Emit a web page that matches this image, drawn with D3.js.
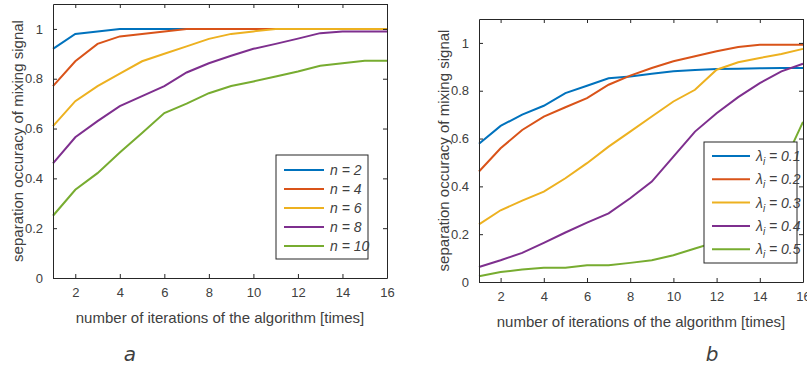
<!DOCTYPE html>
<html>
<head>
<meta charset="utf-8">
<script src="https://cdn.jsdelivr.net/npm/d3@7"></script>
<style>
  body { margin: 0; background: #fff; }
  svg { display: block; }
  text { font-family: "Liberation Sans Narrow", "Liberation Sans", Arial, sans-serif; fill: #404040; }
</style>
</head>
<body>
<svg id="chart" width="807" height="368"></svg>
<script>
const iterations = d3.range(1, 17);
const yTicks = [0, 0.2, 0.4, 0.6, 0.8, 1];
const xTicks = [2, 4, 6, 8, 10, 12, 14, 16];
const colors = ['#0072BD', '#D95319', '#EDB120', '#7E2F8E', '#77AC30'];

// panel a: different n
const nLabels = ['2', '4', '6', '8', '10'];
const n2 = [0.92, 0.98, 0.99, 1.0, 1.0, 1.0, 1.0, 1.0, 1.0, 1.0, 1.0, 1.0, 1.0, 1.0, 1.0, 1.0];
const n4 = [0.77, 0.87, 0.94, 0.97, 0.98, 0.99, 1.0, 1.0, 1.0, 1.0, 1.0, 1.0, 1.0, 1.0, 1.0, 1.0];
const n6 = [0.61, 0.71, 0.77, 0.82, 0.87, 0.90, 0.93, 0.96, 0.98, 0.99, 1.0, 1.0, 1.0, 1.0, 1.0, 1.0];
const n8 = [0.46, 0.565, 0.63, 0.69, 0.73, 0.77, 0.825, 0.862, 0.892, 0.92, 0.94, 0.961, 0.983, 0.99, 0.99, 0.99];
const n10 = [0.25, 0.354, 0.421, 0.504, 0.582, 0.662, 0.70, 0.742, 0.771, 0.789, 0.809, 0.829, 0.852, 0.862, 0.872, 0.872];

// panel b: different lambda_i
const lambdaLabels = ['0.1', '0.2', '0.3', '0.4', '0.5'];
const l01 = [0.578, 0.653, 0.70, 0.737, 0.79, 0.821, 0.852, 0.86, 0.871, 0.881, 0.887, 0.891, 0.892, 0.894, 0.895, 0.895];
const l02 = [0.462, 0.559, 0.636, 0.692, 0.731, 0.769, 0.825, 0.863, 0.895, 0.923, 0.944, 0.965, 0.983, 0.992, 0.992, 0.992];
const l03 = [0.241, 0.30, 0.34, 0.378, 0.434, 0.497, 0.566, 0.629, 0.692, 0.755, 0.804, 0.888, 0.919, 0.937, 0.954, 0.975];
const l04 = [0.063, 0.091, 0.122, 0.164, 0.207, 0.248, 0.287, 0.35, 0.42, 0.524, 0.629, 0.706, 0.773, 0.832, 0.881, 0.913];
const l05 = [0.024, 0.042, 0.052, 0.06, 0.06, 0.07, 0.07, 0.08, 0.091, 0.112, 0.14, 0.168, 0.20, 0.30, 0.475, 0.67];

const svg = d3.select('#chart');

function drawPanel(cfg) {
  const x = d3.scaleLinear().domain([1, 16]).range([cfg.left, cfg.right]);
  const y = d3.scaleLinear().domain([0, 1.1]).range([cfg.bottom, cfg.top]);
  const g = svg.append('g');

  const line = d3.line()
    .x((d, i) => x(iterations[i]))
    .y(d => y(d));

  g.selectAll('path.series')
    .data(cfg.series)
    .join('path')
    .attr('class', 'series')
    .attr('d', line)
    .attr('fill', 'none')
    .attr('stroke', (d, i) => colors[i])
    .attr('stroke-width', 2);

  // box with inward ticks on all sides
  const axisStyle = sel => {
    sel.select('.domain').attr('stroke', '#262626');
    sel.selectAll('.tick line').attr('stroke', '#262626');
    sel.selectAll('.tick text').attr('fill', '#404040').style('font-size', '13px')
      .style('font-family', '"Liberation Sans Narrow", "Liberation Sans", Arial, sans-serif');
  };
  g.append('g').attr('transform', `translate(0,${cfg.bottom})`)
    .call(d3.axisBottom(x).tickValues(xTicks).tickSizeInner(-4).tickSizeOuter(0).tickPadding(10))
    .call(axisStyle);
  g.append('g').attr('transform', `translate(0,${cfg.top})`)
    .call(d3.axisTop(x).tickValues(xTicks).tickSizeInner(-4).tickSizeOuter(0).tickFormat(''))
    .call(axisStyle);
  g.append('g').attr('transform', `translate(${cfg.left},0)`)
    .call(d3.axisLeft(y).tickValues(yTicks).tickSizeInner(-4).tickSizeOuter(0).tickPadding(10).tickFormat(d3.format('~g')))
    .call(axisStyle);
  g.append('g').attr('transform', `translate(${cfg.right},0)`)
    .call(d3.axisRight(y).tickValues(yTicks).tickSizeInner(-4).tickSizeOuter(0).tickFormat(''))
    .call(axisStyle);

  // axis titles
  g.append('text')
    .attr('x', (cfg.left + cfg.right) / 2 + cfg.xTitleShift)
    .attr('y', cfg.bottom + 45)
    .attr('text-anchor', 'middle')
    .style('font-size', '15px')
    .text('number of iterations of the algorithm [times]');
  g.append('text')
    .attr('transform', `translate(${cfg.left - 30},${(cfg.top + cfg.bottom) / 2}) rotate(-90)`)
    .attr('text-anchor', 'middle')
    .style('font-size', '15px')
    .text('separation occuracy of mixing signal');

  // legend
  const lg = cfg.legend;
  g.append('rect')
    .attr('x', lg.x).attr('y', lg.y)
    .attr('width', lg.w).attr('height', lg.h)
    .attr('fill', '#fff').attr('stroke', '#262626').attr('stroke-width', 1);
  cfg.labels.forEach((lab, i) => {
    const cy = lg.y + lg.first + i * lg.step;
    g.append('line')
      .attr('x1', lg.x + lg.l1).attr('x2', lg.x + lg.l2)
      .attr('y1', cy).attr('y2', cy)
      .attr('stroke', colors[i]).attr('stroke-width', 2);
    const t = g.append('text')
      .attr('x', lg.x + lg.l2 + 6).attr('y', cy + 5)
      .style('font-size', '14px').style('font-style', 'italic');
    cfg.labelFn(t, lab);
  });

  // caption
  svg.append('text')
    .attr('x', cfg.capX).attr('y', 361)
    .attr('text-anchor', 'middle')
    .style('font-size', '20px').style('font-style', 'italic')
    .style('font-family', '"DejaVu Sans", sans-serif')
    .attr('fill', '#222')
    .text(cfg.caption);
}

drawPanel({
  left: 53, right: 387, top: 4, bottom: 278,
  series: [n2, n4, n6, n8, n10],
  labels: nLabels,
  xTitleShift: 0,
  legend: { x: 276, y: 155, w: 92, h: 104, first: 15, step: 19, l1: 8, l2: 48 },
  labelFn: (t, lab) => t.text(`n = ${lab}`),
  capX: 130, caption: 'a'
});

drawPanel({
  left: 479, right: 803, top: 19, bottom: 282,
  series: [l01, l02, l03, l04, l05],
  labels: lambdaLabels,
  xTitleShift: 0,
  legend: { x: 704, y: 142, w: 93, h: 121, first: 14, step: 23.3, l1: 8, l2: 46 },
  labelFn: (t, lab) => {
    t.append('tspan').text('λ');
    t.append('tspan').attr('dy', 4).style('font-size', '10px').text('i');
    t.append('tspan').attr('dy', -4).text(` = ${lab}`);
  },
  capX: 712, caption: 'b'
});
</script>
</body>
</html>
